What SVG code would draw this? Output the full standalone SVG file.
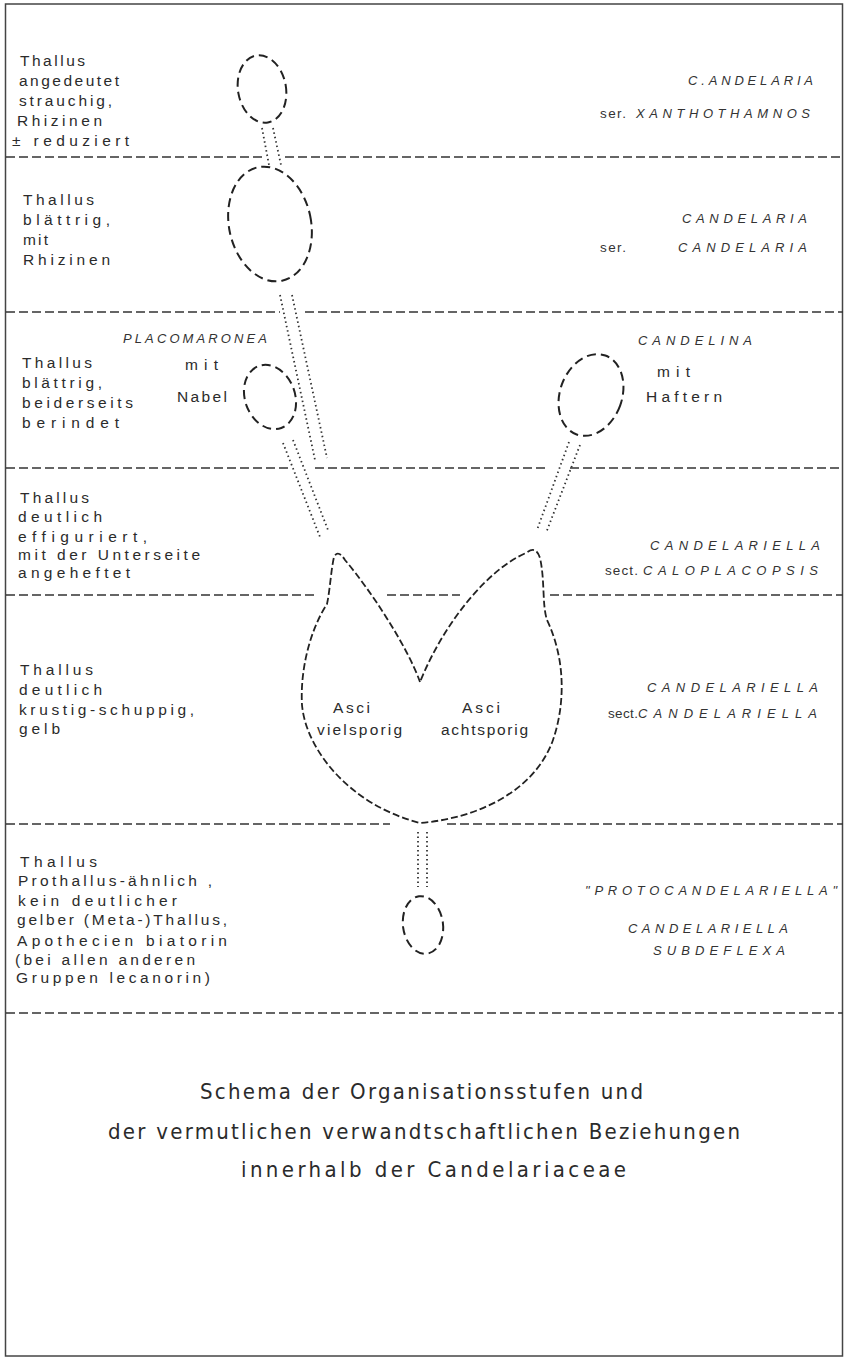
<svg xmlns="http://www.w3.org/2000/svg" width="847" height="1359" viewBox="0 0 847 1359">
<style>
.lbl{font-family:"Liberation Sans",Arial,sans-serif;font-size:15.5px;fill:#2b2b2b}
.tax{font-family:"Liberation Sans",Arial,sans-serif;font-style:italic;font-size:13px;fill:#333}
.up{font-family:"Liberation Sans",Arial,sans-serif;font-size:13.5px;fill:#333}
.ttl{font-family:"DejaVu Sans Condensed","Liberation Sans Narrow","Liberation Sans",Arial,sans-serif;font-stretch:condensed;font-size:22px;fill:#2b2b2b}
.sep{stroke:#333;stroke-width:1.5;stroke-dasharray:9 4;fill:none}
.thal{stroke:#222;stroke-width:2;stroke-dasharray:9 5;fill:none}
.big{stroke:#222;stroke-width:1.8;stroke-dasharray:7 3;fill:none}
.dot{stroke:#333;stroke-width:1.8;stroke-dasharray:1.5 3;fill:none}
</style>
<rect x="0" y="0" width="847" height="1359" fill="#ffffff"/>
<g id="frame">
<rect x="5.5" y="4" width="837" height="1352" fill="none" stroke="#444" stroke-width="1.5"/>
<path class="sep" d="M6 157H262M285 157H843"/>
<path class="sep" d="M6 312H280M305 312H843"/>
<path class="sep" d="M6 468H288M315 468H548M570 468H843"/>
<path class="sep" d="M6 595H318M387 595H460M550 595H843"/>
<path class="sep" d="M6 824H390M447 824H843"/>
<path class="sep" d="M6 1013H843"/>
</g>
<g id="connectors">
<path class="dot" d="M262 128L269 165M273 128L281 165"/>
<path class="dot" d="M280 295L315 460M292 295L327 458"/>
<path class="dot" d="M283 443L320 537M293 440L328 530"/>
<path class="dot" d="M569 442L537 530M580 445L546 533"/>
<path class="dot" d="M418 832L418 887M427 832L427 887"/>
</g>
<g id="node-xanthothamnos">
<ellipse class="thal" cx="262" cy="89" rx="24" ry="34" transform="rotate(-10 262 89)"/>
<text class="lbl" x="20" y="66" textLength="65">Thallus</text>
<text class="lbl" x="19" y="86" textLength="100">angedeutet</text>
<text class="lbl" x="19" y="106" textLength="93">strauchig,</text>
<text class="lbl" x="17" y="126" textLength="85">Rhizinen</text>
<text class="lbl" x="12" y="146" textLength="117">± reduziert</text>
<text class="tax" x="688" y="85" textLength="125">C.ANDELARIA</text>
<text class="up" x="600" y="118" textLength="26">ser.</text>
<text class="tax" x="636" y="118" textLength="174">XANTHOTHAMNOS</text>
</g>
<g id="node-candelaria">
<ellipse class="thal" cx="270" cy="224" rx="41" ry="58" transform="rotate(-12 270 224)"/>
<text class="lbl" x="23" y="205" textLength="71">Thallus</text>
<text class="lbl" x="23" y="225" textLength="87">blättrig,</text>
<text class="lbl" x="23" y="245" textLength="25">mit</text>
<text class="lbl" x="23" y="265" textLength="87">Rhizinen</text>
<text class="tax" x="682" y="223" textLength="125">CANDELARIA</text>
<text class="up" x="600" y="252" textLength="26">ser.</text>
<text class="tax" x="678" y="252" textLength="129">CANDELARIA</text>
</g>
<g id="node-placomaronea">
<ellipse class="thal" cx="270" cy="397" rx="25" ry="33" transform="rotate(-20 270 397)"/>
<text class="lbl" x="22" y="368" textLength="70">Thallus</text>
<text class="lbl" x="22" y="388" textLength="80">blättrig,</text>
<text class="lbl" x="22" y="408" textLength="111">beiderseits</text>
<text class="lbl" x="22" y="428" textLength="97">berindet</text>
<text class="tax" x="123" y="343" textLength="144">PLACOMARONEA</text>
<text class="lbl" x="185" y="370" textLength="33">mit</text>
<text class="lbl" x="177" y="402" textLength="50">Nabel</text>
</g>
<g id="node-candelina">
<ellipse class="thal" cx="591" cy="395" rx="31" ry="42" transform="rotate(20 591 395)"/>
<text class="tax" x="638" y="345" textLength="114">CANDELINA</text>
<text class="lbl" x="657" y="377" textLength="33">mit</text>
<text class="lbl" x="646" y="402" textLength="76">Haftern</text>
</g>
<g id="row-caloplacopsis">
<text class="lbl" x="20" y="503" textLength="69">Thallus</text>
<text class="lbl" x="18" y="522" textLength="84">deutlich</text>
<text class="lbl" x="18" y="542" textLength="129">effiguriert,</text>
<text class="lbl" x="18" y="560" textLength="182">mit der Unterseite</text>
<text class="lbl" x="18" y="578" textLength="112">angeheftet</text>
<text class="tax" x="650" y="550" textLength="170">CANDELARIELLA</text>
<text class="up" x="605" y="575" textLength="33">sect.</text>
<text class="tax" x="643" y="575" textLength="175">CALOPLACOPSIS</text>
</g>
<g id="node-candelariella">
<path class="big" d="M420 682C408 648 372 592 345 560Q338 549 334 557C331 570 330 590 327 604C310 630 300 670 302 705C306 750 350 805 420 823C480 818 535 790 553 740C565 705 566 660 547 620C542 605 545 580 540 558Q536 545 526 553C490 568 445 620 420 682Z"/>
<text class="lbl" x="333" y="713" textLength="37">Asci</text>
<text class="lbl" x="317" y="735" textLength="85">vielsporig</text>
<text class="lbl" x="462" y="713" textLength="38">Asci</text>
<text class="lbl" x="441" y="735" textLength="87">achtsporig</text>
<text class="lbl" x="20" y="675" textLength="73">Thallus</text>
<text class="lbl" x="19" y="695" textLength="83">deutlich</text>
<text class="lbl" x="19" y="715" textLength="175">krustig-schuppig,</text>
<text class="lbl" x="19" y="734" textLength="41">gelb</text>
<text class="tax" x="647" y="692" textLength="171">CANDELARIELLA</text>
<text class="up" x="608" y="718" textLength="30">sect.</text>
<text class="tax" x="638" y="718" textLength="179">CANDELARIELLA</text>
</g>
<g id="node-protocandelariella">
<ellipse class="thal" cx="423" cy="925" rx="20" ry="29" transform="rotate(-8 423 925)"/>
<text class="lbl" x="20" y="867" textLength="77">Thallus</text>
<text class="lbl" x="18" y="886" textLength="194">Prothallus-ähnlich ,</text>
<text class="lbl" x="18" y="906" textLength="159">kein deutlicher</text>
<text class="lbl" x="17" y="925" textLength="210">gelber (Meta-)Thallus,</text>
<text class="lbl" x="17" y="946" textLength="210">Apothecien  biatorin</text>
<text class="lbl" x="15" y="965" textLength="180">(bei allen anderen</text>
<text class="lbl" x="16" y="983" textLength="194">Gruppen lecanorin)</text>
<text class="tax" x="585" y="895" textLength="252">"PROTOCANDELARIELLA"</text>
<text class="tax" x="628" y="933" textLength="160">CANDELARIELLA</text>
<text class="tax" x="653" y="955" textLength="132">SUBDEFLEXA</text>
</g>
<g id="caption">
<text class="ttl" x="200" y="1099" textLength="443">Schema der Organisationsstufen und</text>
<text class="ttl" x="108" y="1139" textLength="632">der vermutlichen verwandtschaftlichen Beziehungen</text>
<text class="ttl" x="241" y="1177" textLength="385">innerhalb der Candelariaceae</text>
</g>
</svg>
